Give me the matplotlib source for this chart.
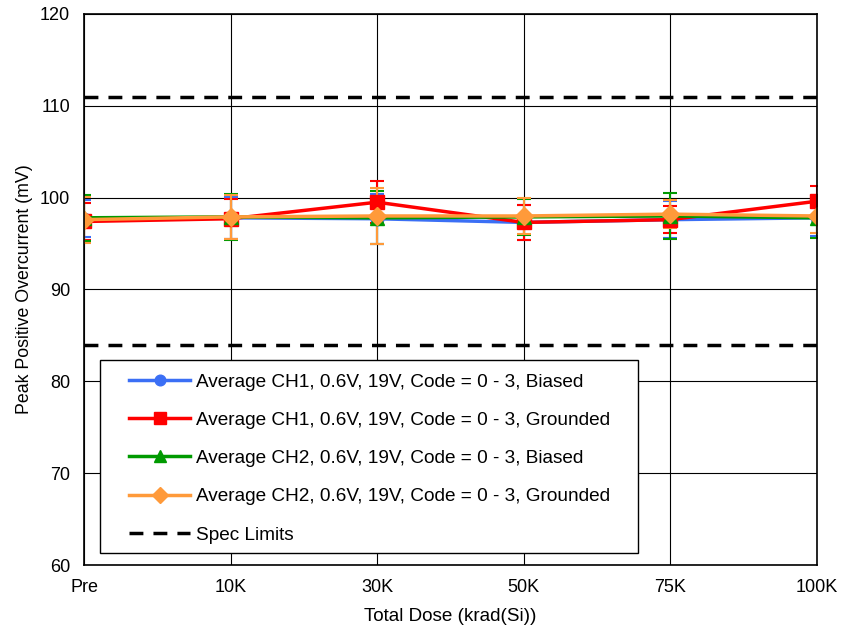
import matplotlib
matplotlib.use("Agg")
import matplotlib.pyplot as plt
from matplotlib.lines import Line2D
from matplotlib.patches import Rectangle
import numpy as np

plt.rcParams['font.family'] = ['Liberation Sans', 'DejaVu Sans']

doses = ["Pre", "10K", "30K", "50K", "75K", "100K"]

ch1_biased = [97.7, 97.8, 97.7, 97.3, 97.6, 97.8]
ch1_biased_err = [2.0, 2.3, 2.7, 1.9, 2.0, 2.0]
ch1_grounded = [97.4, 97.7, 99.5, 97.3, 97.6, 99.6]
ch1_grounded_err = [2.0, 2.2, 2.3, 1.9, 1.5, 1.7]
ch2_biased = [97.8, 97.9, 97.8, 97.9, 98.0, 97.8]
ch2_biased_err = [2.5, 2.5, 2.9, 2.0, 2.5, 2.2]
ch2_grounded = [97.6, 97.9, 98.0, 98.0, 98.2, 98.0]
ch2_grounded_err = [2.5, 2.4, 3.0, 2.0, 1.5, 1.8]

spec_upper = 111
spec_lower = 84

series = [
    (ch1_biased, ch1_biased_err, '#3b6ff5', 'o', 9, "Average CH1, 0.6V, 19V, Code = 0 - 3, Biased"),
    (ch1_grounded, ch1_grounded_err, '#ff0000', 's', 10, "Average CH1, 0.6V, 19V, Code = 0 - 3, Grounded"),
    (ch2_biased, ch2_biased_err, '#009a00', '^', 10, "Average CH2, 0.6V, 19V, Code = 0 - 3, Biased"),
    (ch2_grounded, ch2_grounded_err, '#ff9a3a', 'D', 9, "Average CH2, 0.6V, 19V, Code = 0 - 3, Grounded"),
]
dash = (0, (4, 2.9))

fig = plt.figure(figsize=(8.41, 6.32), dpi=100)
ax = fig.add_axes([0.0999, 0.106, 0.871, 0.872])

x = np.arange(len(doses))
handles = []
for vals, err, col, mk, ms, lab in series:
    ax.errorbar(x, vals, yerr=err, color=col, marker=mk, markersize=ms,
                linewidth=2.5, elinewidth=1.5, capsize=5, capthick=1.5)
    handles.append(Line2D([], [], color=col, marker=mk, markersize=ms * 0.85,
                          linewidth=2.5, label=lab))

ax.plot([x[0], x[-1]], [spec_upper, spec_upper], color='black', linestyle=dash, linewidth=2.5)
ax.plot([x[0], x[-1]], [spec_lower, spec_lower], color='black', linestyle=dash, linewidth=2.5)
handles.append(Line2D([], [], color='black', linestyle=dash, linewidth=2.5, label="Spec Limits"))

ax.set_xlim(0, len(doses) - 1)
ax.set_ylim(60, 120)
ax.set_xticks(x)
ax.set_xticklabels(doses)
ax.set_yticks(np.arange(60, 121, 10))
ax.tick_params(labelsize=13, length=0, pad=10)
ax.grid(True, color='black', linewidth=0.8)
ax.set_axisbelow(True)
for s in ax.spines.values():
    s.set_linewidth(1.2)

ax.set_xlabel("Total Dose (krad(Si))", fontsize=13.6, labelpad=9)
ax.set_ylabel("Peak Positive Overcurrent (mV)", fontsize=12.8, labelpad=5)

# legend box drawn separately (wider side padding than legend's own frame)
box = Rectangle((0.022, 0.022), 0.734, 0.350, transform=ax.transAxes,
                facecolor='white', edgecolor='black', linewidth=1.0, zorder=4)
ax.add_patch(box)
leg = ax.legend(handles=handles, loc='upper left', bbox_to_anchor=(0.062, 0.348), fontsize=13.7,
                frameon=False, handlelength=3.2, labelspacing=1.1, borderpad=0,
                handletextpad=0.3, borderaxespad=0)
leg.set_zorder(5)

fig.savefig("out.png", dpi=100)
